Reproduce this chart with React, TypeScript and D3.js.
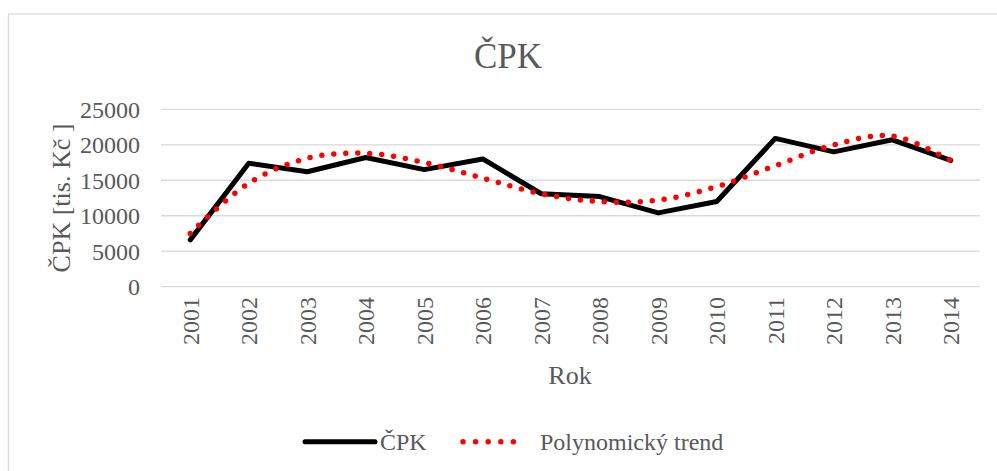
import React from "react";
import * as d3 from "d3";

const years = ["2001","2002","2003","2004","2005","2006","2007","2008","2009","2010","2011","2012","2013","2014"];
const cpkValues = [6600, 17400, 16200, 18200, 16500, 18000, 13100, 12700, 10400, 12000, 20900, 19000, 20700, 17800];
const trendValues = [7500, 14600, 18100, 18800, 17500, 15300, 13100, 12000, 12200, 14100, 17050, 20000, 21250, 17760];
const yTicks = [0, 5000, 10000, 15000, 20000, 25000];

const W = 997;
const H = 471;
const TXT = "#595959";
const FONT = "'Liberation Serif', 'Times New Roman', serif";

export default function App() {
  const x = d3.scalePoint<string>().domain(years).range([161, 980]).padding(0.5);
  const y = d3.scaleLinear().domain([0, 25000]).range([286.7, 109.3]);

  const line = d3
    .line<number>()
    .x((_, i) => x(years[i]) as number)
    .y((d) => y(d));
  const trend = d3
    .line<number>()
    .x((_, i) => x(years[i]) as number)
    .y((d) => y(d))
    .curve(d3.curveCatmullRom.alpha(0.5));

  return (
    <svg
      width={W}
      height={H}
      style={{ position: "absolute", left: 0, top: 0, background: "#fff" }}
      fontFamily={FONT}
    >
      <rect x={8.5} y={14} width={W + 20} height={H + 20} fill="#fff" stroke="#d9d9d9" strokeWidth={1.3} />
      <text x={508} y={68} textAnchor="middle" fontSize={35} fill={TXT}>ČPK</text>

      {yTicks.map((t) => (
        <g key={t}>
          <line x1={161} x2={980} y1={y(t)} y2={y(t)} stroke="#d9d9d9" strokeWidth={1.3} />
          <text x={140} y={y(t) + 8.5} textAnchor="end" fontSize={24} fill={TXT}>{t}</text>
        </g>
      ))}

      {years.map((yr) => (
        <text
          key={yr}
          transform={`translate(${(x(yr) as number) + 8.5},297) rotate(-90)`}
          textAnchor="end"
          fontSize={24}
          fill={TXT}
        >
          {yr}
        </text>
      ))}

      <text transform="translate(70,198) rotate(-90)" textAnchor="middle" fontSize={26} fill={TXT}>
        ČPK [tis. Kč ]
      </text>
      <text x={570} y={384} textAnchor="middle" fontSize={26} fill={TXT}>Rok</text>

      <path d={line(cpkValues) || ""} fill="none" stroke="#000" strokeWidth={5} strokeLinejoin="round" strokeLinecap="round" />
      <path
        d={trend(trendValues) || ""}
        fill="none"
        stroke="#ff0000"
        strokeWidth={5.5}
        strokeDasharray="0 12"
        strokeLinecap="round"
      />

      <line x1={305} x2={375} y1={441.7} y2={441.7} stroke="#000" strokeWidth={5} strokeLinecap="round" />
      <text x={380} y={450} fontSize={24} fill={TXT}>ČPK</text>
      <line x1={463} x2={526} y1={441.7} y2={441.7} stroke="#ff0000" strokeWidth={5.5} strokeDasharray="0 12.6" strokeLinecap="round" />
      <text x={540} y={450} fontSize={24} fill={TXT}>Polynomický trend</text>
    </svg>
  );
}
